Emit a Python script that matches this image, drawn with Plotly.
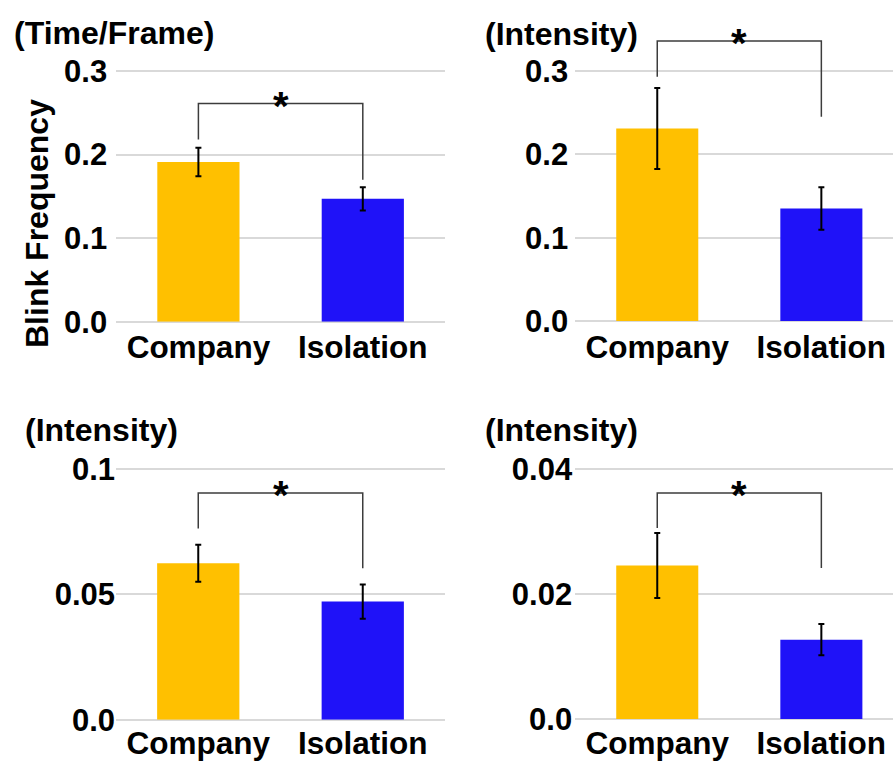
import plotly.graph_objects as go

# Groups and bar colours
categories = ["Company", "Isolation"]
bar_colors = ["#FFC000", "#1F12F8"]

# Means and standard errors for each panel
time_frame_mean = [0.191, 0.147]
time_frame_err = [0.017, 0.014]
intensity_a_mean = [0.231, 0.135]
intensity_a_err = [0.0485, 0.0255]
intensity_b_mean = [0.0624, 0.0471]
intensity_b_err = [0.0074, 0.0068]
intensity_c_mean = [0.0246, 0.0127]
intensity_c_err = [0.0052, 0.0025]

panel_titles = ["(Time/Frame)", "(Intensity)", "(Intensity)", "(Intensity)"]
tick_values = [[0, 0.1, 0.2, 0.3], [0, 0.1, 0.2, 0.3], [0, 0.05, 0.1], [0, 0.02, 0.04]]
tick_labels = [["0.0", "0.1", "0.2", "0.3"], ["0.0", "0.1", "0.2", "0.3"],
               ["0.0", "0.05", "0.1"], ["0.0", "0.02", "0.04"]]

# Significance brackets: horizontal level and leg ends (data units)
bracket_top = [0.261, 0.336, 0.0904, 0.0362]
bracket_left_end = [0.218, 0.293, 0.0763, 0.0306]
bracket_right_end = [0.170, 0.245, 0.0604, 0.0242]
sig_label = "*"

means = [time_frame_mean, intensity_a_mean, intensity_b_mean, intensity_c_mean]
errors = [time_frame_err, intensity_a_err, intensity_b_err, intensity_c_err]

W, H = 893, 761
FONT = "Liberation Sans, Arial, sans-serif"

# Panel geometry in pixels: plot left/right, width of one category,
# pixel row of zero, pixels per data unit, top of plot area
geometry = [
    dict(x0=116.2, x1=445.0, unit=164.4, zero=321.7, scale=835.7, top=16,
         title_x=12, title_y=33, ystand=8, xstand=4),
    dict(x0=575.2, x1=893.0, unit=164.1, zero=321.0, scale=833.3, top=16,
         title_x=483, title_y=34, ystand=6, xstand=4),
    dict(x0=116.0, x1=445.0, unit=164.5, zero=719.7, scale=2507.0, top=452,
         title_x=23, title_y=430, ystand=0, xstand=2),
    dict(x0=575.2, x1=893.0, unit=164.1, zero=719.0, scale=6242.0, top=452,
         title_x=483, title_y=430, ystand=2, xstand=2),
]

fig = go.Figure()
annotations = []
layout_axes = {}

for i, g in enumerate(geometry):
    n = "" if i == 0 else str(i + 1)
    xa, ya = "x" + n, "y" + n

    fig.add_trace(go.Bar(
        x=categories, y=means[i], width=0.5,
        marker=dict(color=bar_colors, line=dict(width=0)),
        error_y=dict(type="data", array=errors[i], visible=True,
                     color="black", thickness=2, width=3),
        xaxis=xa, yaxis=ya, showlegend=False, hoverinfo="skip",
    ))

    fig.add_trace(go.Scatter(
        x=[categories[0], categories[0], categories[1], categories[1]],
        y=[bracket_left_end[i], bracket_top[i], bracket_top[i], bracket_right_end[i]],
        mode="lines", line=dict(color="#3c3c3c", width=1.5),
        xaxis=xa, yaxis=ya, showlegend=False, hoverinfo="skip",
    ))

    annotations.append(dict(
        x=0.5, y=bracket_top[i], xref=xa, yref=ya, text=sig_label,
        showarrow=False, xanchor="center", yanchor="middle", yshift=-2,
        font=dict(family=FONT, size=40, color="black", weight="bold"),
    ))

    annotations.append(dict(
        x=g["title_x"] / W, y=1 - g["title_y"] / H, xref="paper", yref="paper",
        text=panel_titles[i], showarrow=False, xanchor="left", yanchor="middle",
        font=dict(family=FONT, size=32, color="black", weight="bold"),
    ))

    layout_axes["xaxis" + n] = dict(
        domain=[g["x0"] / W, min(g["x1"] / W, 1.0)],
        range=[-0.5, -0.5 + (g["x1"] - g["x0"]) / g["unit"]],
        anchor=ya, type="category", showgrid=False, zeroline=False,
        showline=False, ticks="", ticklabelstandoff=g["xstand"], automargin=False,
        tickfont=dict(family=FONT, size=31.5, color="black", weight="bold"),
    )
    layout_axes["yaxis" + n] = dict(
        domain=[1 - g["zero"] / H, 1 - g["top"] / H],
        range=[0, (g["zero"] - g["top"]) / g["scale"]],
        anchor=xa, tickmode="array", tickvals=tick_values[i], ticktext=tick_labels[i],
        showgrid=True, gridcolor="#d9d9d9", gridwidth=1.5,
        zeroline=True, zerolinecolor="#d9d9d9", zerolinewidth=1.5,
        showline=False, ticks="", ticklabelstandoff=g["ystand"], automargin=False,
        tickfont=dict(family=FONT, size=31, color="black", weight="bold"),
    )

annotations.append(dict(
    x=37 / W, y=1 - 224 / H, xref="paper", yref="paper", text="Blink Frequency",
    textangle=-90, showarrow=False, xanchor="center", yanchor="middle",
    font=dict(family=FONT, size=32, color="black", weight="bold"),
))

fig.update_layout(
    width=W, height=H, margin=dict(l=0, r=0, t=0, b=0, autoexpand=False),
    paper_bgcolor="white", plot_bgcolor="white",
    annotations=annotations, bargap=0.5, showlegend=False,
    **layout_axes,
)

fig.write_html("out.html", config={"displayModeBar": False})
